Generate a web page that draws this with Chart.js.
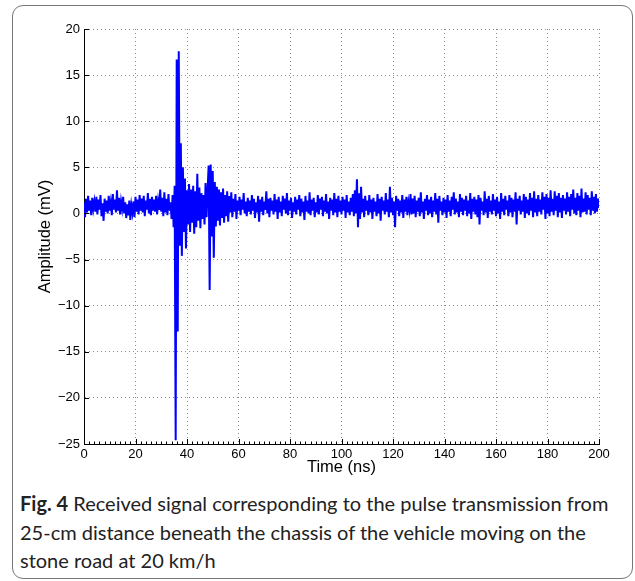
<!DOCTYPE html>
<html>
<head>
<meta charset="utf-8">
<script src="https://cdn.jsdelivr.net/npm/chart.js@4.4.1/dist/chart.umd.min.js"></script>
<style>
  html, body { margin: 0; padding: 0; background: #fff; }
  body { width: 635px; height: 581px; position: relative; overflow: hidden; }
  .frame {
    position: absolute; left: 12px; top: 5px; width: 619px; height: 572px;
    border: 1.5px solid #777; border-radius: 11px;
  }
  #chartBox { position: absolute; left: 0; top: 0; width: 635px; height: 480px; }
  .caption {
    position: absolute; left: 20px; top: 489px; white-space: nowrap;
    font-family: Lato, sans-serif; font-size: 20px; line-height: 28.5px; color: #222;
  }
  .caption b { font-weight: bold; }
</style>
</head>
<body>
<div class="frame"></div>
<div id="chartBox"><canvas id="chart" width="635" height="480"></canvas></div>
<div class="caption"><b>Fig. 4</b> Received signal corresponding to the pulse transmission from<br>25-cm distance beneath the chassis of the vehicle moving on the<br>stone road at 20 km/h</div>

<script>
// received signal, one sample every 0.4 ns from 0 to 200 ns (values in mV)
let amplitude = [
  // 0 - 34 ns
  1.2, -0.4, 1.6, 0.1, 1.9, 0.3, 1.4, -0.2, 1.7, 0.5,
  1.3, 0.2, 1.8, -0.1, 1.5, 0.4, 2.0, -0.3, 1.1, -0.8,
  1.6, 0.2, 1.4, 0.0, 1.9, 0.3, 1.2, -0.2, 2.1, 0.4,
  1.5, 0.1, 2.5, 0.3, 1.7, -0.1, 1.3, 0.5, 1.8, 0.0,
  1.2, -0.5, 1.0, -0.2, 1.4, -0.7, 0.9, 0.1, 1.3, -0.4,
  1.8, 0.2, 1.5, -0.1, 2.0, 0.3, 1.6, 0.1, 1.9, -0.3,
  1.4, 0.4, 2.2, 0.0, 1.6, -0.2, 1.8, 0.3, 1.5, 0.2,
  1.9, -0.1, 1.3, 0.4, 2.6, 0.2, 1.7, -0.3, 2.3, 0.1,
  1.6, -0.2, 2.1, 0.3, 1.2, -0.6,
  // pulse, 34.4 - 40 ns
  2.0, -1.5, 3.0, -24.6, 16.7, -12.8, 17.6, -3.5, 7.6, -4.6,
  5.0, -2.0, 3.8, -3.8, 2.5,
  // ringing, 40.4 - 56 ns
  -1.2, 3.2, -2.0, 2.6, -1.0, 3.0, -2.2, 2.4, -1.5, 4.3,
  -0.8, 2.8, -1.6, 2.2, -0.6, 2.0, -1.2, 3.3, -0.4, 2.6,
  5.2, -8.3, 5.3, -2.5, 4.6, -4.8, 3.4, -1.4, 2.9, -0.8,
  2.6, -1.3, 2.3, -0.5, 2.7, -1.0, 2.0, -0.3, 2.4, -0.9,
  // 56.4 - 200 ns
  1.9, 0.1, 2.3, -0.4, 1.6, 0.2, 2.1, -0.6, 1.4, 0.3,
  1.8, -0.2, 1.5, 0.4, 2.2, 0.0, 1.3, -0.3, 1.7, 0.2,
  1.4, -0.1, 2.0, 0.3, 1.6, -0.5, 1.2, 0.1, 1.9, -0.9,
  1.5, 0.2, 1.8, -0.2, 1.3, 0.4, 2.4, 0.0, 1.6, -0.4,
  1.7, 0.3, 1.4, -0.1, 2.1, 0.2, 1.5, -0.6, 1.8, 0.1,
  1.3, -0.3, 1.9, 0.4, 1.6, 0.0, 2.2, -0.2, 1.4, 0.3,
  1.7, -0.5, 1.2, 0.2, 1.8, -0.1, 1.5, 0.4, 2.0, -0.3,
  1.6, 0.1, 1.3, -0.7, 1.9, 0.2, 1.4, 0.0, 2.3, -0.2,
  1.5, 0.3, 1.7, -0.4, 1.2, 0.1, 2.0, -0.1, 1.6, 0.4,
  1.8, -0.3, 1.4, 0.2, 2.1, 0.0, 1.3, -0.6, 1.7, 0.3,
  1.5, -0.2, 2.2, 0.1, 1.6, -0.4, 1.9, 0.2, 1.4, -0.1,
  1.8, 0.3, 1.5, -0.5, 2.0, 0.1, 1.3, -0.2, 1.7, 0.2,
  2.1, -0.3, 2.5, 0.0, 3.7, -1.5, 2.2, -0.6, 2.9, 0.1,
  1.6, -0.4, 1.9, 0.3, 1.4, -0.2, 2.0, 0.1, 1.5, -0.6,
  1.7, 0.2, 1.3, -0.3, 2.1, 0.0, 1.6, -0.8, 1.8, 0.3,
  1.4, -0.1, 2.2, 0.2, 1.5, -0.4, 2.9, 0.1, 1.7, -0.2,
  1.3, -1.5, 1.9, 0.3, 1.6, -0.3, 1.4, 0.1, 2.0, -0.5,
  1.5, 0.2, 1.8, -0.2, 1.2, 0.4, 2.1, -0.1, 1.6, 0.0,
  1.9, -0.4, 1.4, 0.2, 1.7, -0.3, 2.3, 0.1, 1.3, -0.6,
  1.6, 0.3, 2.0, -0.2, 1.5, 0.0, 1.8, -0.4, 1.4, 0.2,
  2.2, -0.1, 1.6, -1.0, 1.9, 0.3, 1.3, -0.2, 1.7, 0.1,
  1.5, -0.5, 2.0, 0.2, 1.4, -0.3, 1.8, 0.4, 2.3, -0.1,
  1.6, 0.1, 1.3, -0.4, 2.1, 0.2, 1.7, -0.2, 1.5, 0.3,
  1.9, -0.3, 1.4, 0.0, 2.2, -0.6, 1.6, 0.2, 1.8, -0.1,
  1.5, -0.4, 2.0, -1.2, 1.7, 0.3, 1.3, -0.2, 2.4, 0.1,
  1.6, -0.5, 1.9, 0.2, 1.4, -0.1, 2.1, 0.3, 1.5, -0.3,
  1.8, 0.0, 1.3, -0.6, 2.2, 0.2, 1.6, -0.2, 1.9, 0.4,
  1.4, -0.3, 2.0, 0.1, 1.7, -0.4, 1.5, 0.2, 2.3, -1.2,
  1.6, 0.3, 1.9, -0.1, 1.4, 0.2, 2.1, -0.5, 1.8, 0.0,
  1.5, -0.2, 2.2, 0.3, 1.7, -0.4, 2.4, 0.1, 1.6, -0.3,
  2.0, 0.2, 1.5, -0.1, 2.3, 0.4, 1.8, -0.6, 2.1, 0.0,
  1.7, -0.3, 2.5, 0.2, 1.6, -0.2, 2.4, 0.3, 1.9, -0.4,
  2.2, 0.1, 1.7, -0.5, 2.0, 0.3, 1.6, -0.1, 2.3, 0.2,
  1.8, -0.3, 2.1, 0.4, 2.6, 0.0, 1.7, -0.2, 2.2, 0.3,
  1.9, -0.4, 2.7, 0.1, 1.6, 0.2, 2.3, -0.1, 2.0, 0.4,
  1.7, -0.2, 2.4, 0.3, 1.8, 0.0, 2.1, 0.2, 1.6, 0.6
];

let timeStart = 0;
let timeEnd = 200;
let xTicks = [0, 20, 40, 60, 80, 100, 120, 140, 160, 180, 200];
let yTicks = [-25, -20, -15, -10, -5, 0, 5, 10, 15, 20];

let step = (timeEnd - timeStart) / (amplitude.length - 1);
let points = amplitude.map((v, i) => ({ x: timeStart + i * step, y: v }));

let tickFont = { family: "'Liberation Sans', Arial, sans-serif", size: 13 };
let titleFont = { family: "'Liberation Sans', Arial, sans-serif", size: 16.5 };

function minus(v) {
  return String(v).replace("-", "\u2212");
}

// MATLAB style ticks pointing into the plot, plus minor ticks on the time axis
let inwardTicks = {
  id: "inwardTicks",
  afterDraw(chart) {
    let ctx = chart.ctx;
    let xs = chart.scales.x;
    let ys = chart.scales.y;
    let area = chart.chartArea;
    ctx.save();
    ctx.strokeStyle = "#000";
    ctx.lineWidth = 1;
    ctx.beginPath();
    for (let t = timeStart; t <= timeEnd; t += 2) {
      let px = Math.round(xs.getPixelForValue(t)) + 0.5;
      let len = t % 20 === 0 ? 5 : 2.5;
      ctx.moveTo(px, area.bottom + 1);
      ctx.lineTo(px, area.bottom - len);
    }
    yTicks.forEach((v) => {
      let py = Math.round(ys.getPixelForValue(v)) + 0.5;
      ctx.moveTo(area.left, py);
      ctx.lineTo(area.left + 5, py);
    });
    ctx.stroke();
    ctx.restore();
  },
};

new Chart(document.getElementById("chart"), {
  type: "line",
  data: {
    datasets: [
      {
        data: points,
        borderColor: "#0000ff",
        borderWidth: 2,
        pointRadius: 0,
        tension: 0,
        fill: false,
      },
    ],
  },
  options: {
    responsive: false,
    animation: false,
    devicePixelRatio: 1,
    layout: { padding: { top: 29, right: 36, bottom: 0, left: 0 } },
    plugins: { legend: { display: false }, tooltip: { enabled: false } },
    scales: {
      x: {
        type: "linear",
        min: timeStart,
        max: timeEnd,
        afterBuildTicks: (s) => { s.ticks = xTicks.map((v) => ({ value: v })); },
        afterFit: (s) => { s.height = 36; },
        ticks: { font: tickFont, color: "#000", padding: 3, maxRotation: 0, callback: (v) => minus(v) },
        grid: { color: "rgba(0,0,0,0.45)", lineWidth: 1, drawTicks: false },
        border: { display: true, color: "#000", width: 1, dash: [1, 3] },
        title: { display: true, text: "Time (ns)", font: titleFont, color: "#000", padding: { top: 0, bottom: 3 } },
      },
      y: {
        min: -25,
        max: 20,
        afterBuildTicks: (s) => { s.ticks = yTicks.map((v) => ({ value: v })); },
        afterFit: (s) => { s.width = 84; },
        ticks: { font: tickFont, color: "#000", padding: 4, callback: (v) => minus(v) },
        grid: { color: "rgba(0,0,0,0.45)", lineWidth: 1, drawTicks: false },
        border: { display: true, color: "#000", width: 1, dash: [1, 3] },
        title: { display: true, text: "Amplitude (mV)", font: titleFont, color: "#000", padding: { top: 36, bottom: 0 } },
      },
    },
  },
  plugins: [inwardTicks],
});
</script>
</body>
</html>
